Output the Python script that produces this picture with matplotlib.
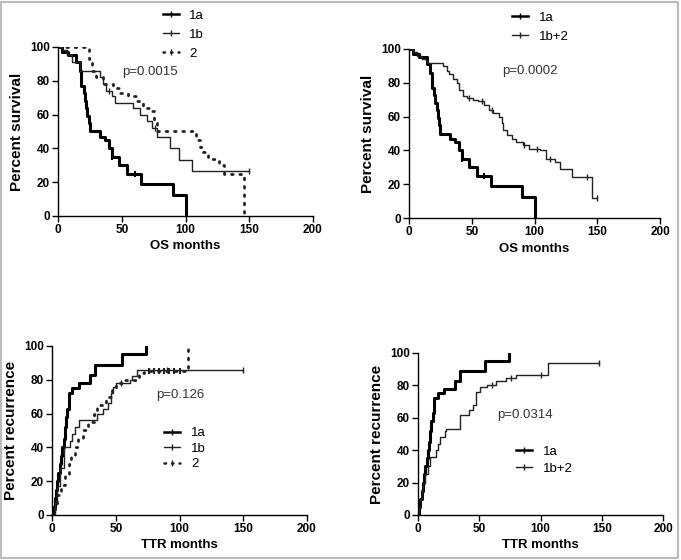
import numpy as np
import matplotlib
matplotlib.use("Agg")
from matplotlib import pyplot as plt
from matplotlib.lines import Line2D
from matplotlib.patches import Rectangle

plt.rcParams['font.family'] = ['Liberation Sans', 'DejaVu Sans']

# ---- overall survival (percent survival) ----
os_1a_t = [0, 3, 8, 14, 17, 18, 20, 21, 22, 23, 24, 25, 33, 37, 40, 42, 48, 54, 65, 90, 100]
os_1a_s = [100, 97, 95, 91, 86, 77, 73, 68, 64, 59, 55, 50, 47, 45, 40, 35, 30, 25, 19, 12.5, 0]
os_1a_cens = [42, 60]

os_1b_t = [0, 3, 7, 11, 17, 33, 35, 38, 42, 45, 59, 64, 70, 74, 78, 88, 95, 105, 150]
os_1b_s = [100, 98, 95, 91, 86, 82, 78, 74, 71, 67, 64, 60, 56, 52, 47, 40, 33, 26.5, 26.5]
os_1b_cens = [40, 76, 150]

os_2_t = [0, 24, 27, 30, 35, 43, 49, 55, 62, 67, 72, 75, 78, 108, 111, 114, 118, 126, 130, 146]
os_2_s = [100, 93, 86, 82, 78, 76, 73, 71, 68, 64, 62, 57, 50, 45, 41, 38, 34, 30, 25, 0]

os_12_t = [0, 3, 6, 10, 14, 27, 30, 32, 35, 38, 40, 43, 46, 51, 55, 60, 64, 67, 72, 74, 75, 78,
           82, 85, 91, 96, 104, 109, 116, 120, 130, 146, 150]
os_12_s = [100, 98, 96, 94, 92, 90, 87, 85, 82, 80, 76, 72, 71, 70, 69, 67, 64, 62, 60, 56, 52, 49,
           47, 45, 43, 41, 40, 35, 33, 29, 24, 12, 12]
os_12_cens = [48, 58, 66, 92, 102, 112, 142, 150]

# ---- time to recurrence (percent recurrence) ----
ttr_1a_t = [0, 1, 2, 3, 4, 5, 6, 7, 8, 9, 10, 11, 12, 13, 16, 21, 30, 34, 55, 74]
ttr_1a_s = [0, 5, 10, 15, 20, 25, 30, 35, 40, 45, 52, 58, 63, 72, 75, 78, 83, 89, 95, 100]

ttr_1b_t = [0, 2, 4, 6, 9, 14, 16, 18, 21, 35, 40, 44, 46, 48, 50, 61, 63, 67, 150]
ttr_1b_s = [0, 8, 17, 28, 40, 44, 48, 52, 56, 60, 63, 66, 72, 76, 78, 80, 82, 85.7, 85.7]
ttr_1b_cens = [54, 90, 150]

ttr_2_t = [0, 2, 4, 7, 10, 13, 15, 18, 20, 24, 28, 33, 35, 42, 47, 50, 55, 68, 72, 107]
ttr_2_s = [0, 5, 12, 18, 24, 30, 35, 40, 45, 50, 55, 60, 65, 70, 75, 78, 80, 84, 85, 100]
ttr_2_cens = [76, 80, 84, 88, 92, 96, 100]

ttr_12_t = [0, 1, 2, 3, 4, 6, 8, 9.5, 15, 16, 17.7, 21.8, 23, 34, 42, 45, 47.7, 50.4, 56, 64, 72,
            80, 106, 148]
ttr_12_s = [0, 5, 10, 15, 19.5, 25, 30, 36, 40, 44, 48, 52, 53.3, 62, 65, 68, 76, 79, 80, 82.7,
            84.8, 86.5, 94, 94]
ttr_12_cens = [60, 76, 100, 148]

thick = dict(color='black', lw=2.2)
thin = dict(color='#222222', lw=1.0)
dots = dict(color='#222222', lw=2.0, linestyle=(0, (0.6, 2.4)), dash_capstyle='round')


def step(ax, t, s, style, cens=None):
    ax.plot(t, s, drawstyle='steps-post', **style)
    if cens:
        idx = np.searchsorted(t, cens, side='right') - 1
        ax.plot(cens, np.array(s)[idx], ls='none', marker='|', ms=4,
                mew=style['lw'] if style['lw'] < 2 else 1.5, color=style['color'])


def style_axes(ax, xlabel, ylabel):
    ax.set_xlim(0, 200)
    ax.set_ylim(0, 100)
    ax.set_xticks([0, 50, 100, 150, 200])
    ax.set_yticks([0, 20, 40, 60, 80, 100])
    for side in ['top', 'right']:
        ax.spines[side].set_visible(False)
    for side in ['left', 'bottom']:
        ax.spines[side].set_linewidth(1.0)
    ax.tick_params(direction='out', length=4, width=1, labelsize=8.5, pad=2)
    for lab in ax.get_xticklabels() + ax.get_yticklabels():
        lab.set_fontweight('bold')
    ax.set_xlabel(xlabel, fontsize=9.5, fontweight='bold', labelpad=3)
    ax.set_ylabel(ylabel, fontsize=11, fontweight='bold', labelpad=4)


def leg_handle(style, label):
    st = dict(style)
    st['lw'] = min(st['lw'], 1.8)
    return Line2D([], [], marker='|', ms=4, mew=1, label=label, **st)


leg_kw = dict(loc='upper left', frameon=False, fontsize=9.5, handlelength=1.2,
              handletextpad=0.8, borderpad=0)

fig = plt.figure(figsize=(6.81, 5.6), dpi=100)

ax1 = fig.add_axes([0.0852, 0.6143, 0.3744, 0.3018])
step(ax1, os_1a_t, os_1a_s, thick, os_1a_cens)
step(ax1, os_1b_t, os_1b_s, thin, os_1b_cens)
step(ax1, os_2_t, os_2_s, dots)
style_axes(ax1, 'OS months', 'Percent survival')
ax1.text(50, 85, 'p=0.0015', fontsize=9.5, color='#333333', va='center')
ax1.legend(handles=[leg_handle(thick, '1a'), leg_handle(thin, '1b'), leg_handle(dots, '2')],
           bbox_to_anchor=(0.385, 1.26), labelspacing=0.5, **leg_kw)

ax2 = fig.add_axes([0.6006, 0.6107, 0.3686, 0.3018])
step(ax2, os_1a_t, os_1a_s, thick, os_1a_cens)
step(ax2, os_12_t, os_12_s, thin, os_12_cens)
style_axes(ax2, 'OS months', 'Percent survival')
ax2.text(74, 87, 'p=0.0002', fontsize=9.5, color='#333333', va='center')
ax2.legend(handles=[leg_handle(thick, '1a'), leg_handle(thin, '1b+2')],
           bbox_to_anchor=(0.385, 1.26), labelspacing=0.5, **leg_kw)

ax3 = fig.add_axes([0.0764, 0.0804, 0.3744, 0.3018])
step(ax3, ttr_1a_t, ttr_1a_s, thick)
step(ax3, ttr_1b_t, ttr_1b_s, thin, ttr_1b_cens)
step(ax3, ttr_2_t, ttr_2_s, dots, ttr_2_cens)
style_axes(ax3, 'TTR months', 'Percent recurrence')
ax3.text(82, 71, 'p=0.126', fontsize=9.5, color='#333333', va='center')
ax3.legend(handles=[leg_handle(thick, '1a'), leg_handle(thin, '1b'), leg_handle(dots, '2')],
           bbox_to_anchor=(0.415, 0.56), labelspacing=0.25, **leg_kw)

ax4 = fig.add_axes([0.6138, 0.0804, 0.3598, 0.2893])
step(ax4, ttr_1a_t, ttr_1a_s, thick)
step(ax4, ttr_12_t, ttr_12_s, thin, ttr_12_cens)
style_axes(ax4, 'TTR months', 'Percent recurrence')
ax4.text(64.5, 62, 'p=0.0314', fontsize=9.5, color='#333333', va='center')
ax4.legend(handles=[leg_handle(thick, '1a'), leg_handle(thin, '1b+2')],
           bbox_to_anchor=(0.375, 0.47), labelspacing=0.35, **leg_kw)

# light grey frame around the whole figure
fig.patches.append(Rectangle((0.002, 0.003), 0.994, 0.994, transform=fig.transFigure,
                             fill=False, edgecolor='#bbbbbb', lw=1.5))

fig.savefig('out.png', dpi=100)
